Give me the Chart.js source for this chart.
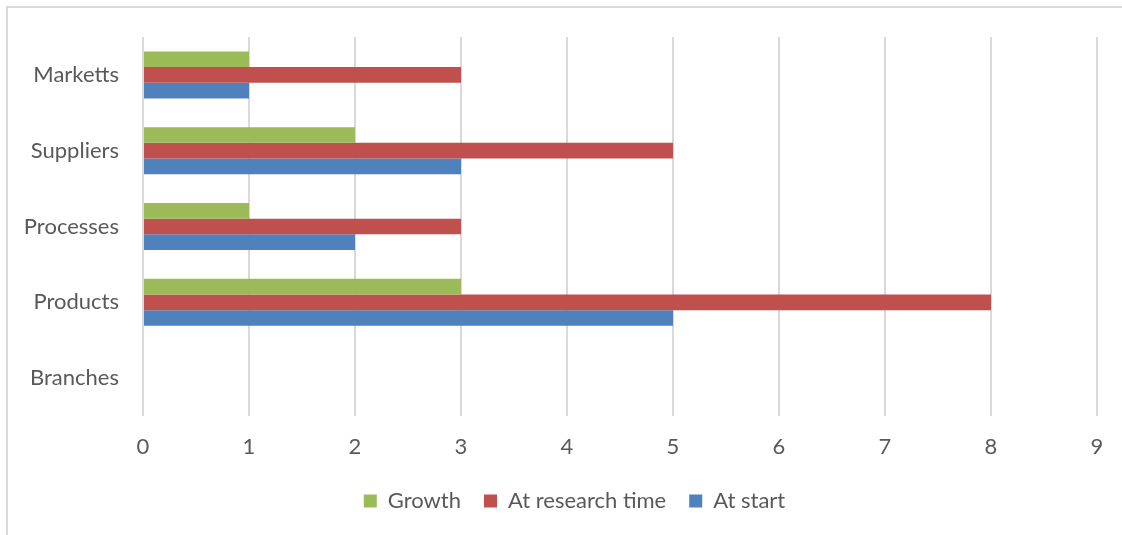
<!DOCTYPE html>
<html>
<head>
<meta charset="utf-8">
<script src="https://cdn.jsdelivr.net/npm/chart.js@4/dist/chart.umd.min.js"></script>
<style>
  html, body { margin: 0; padding: 0; background: #ffffff; }
  #wrap {
    position: relative;
    width: 1122px;
    height: 535px;
    overflow: hidden;
  }
  #frame {
    position: absolute;
    left: 6px;
    top: 6px;
    width: 1130px;
    height: 540px;
    border-left: 2px solid #d9d9d9;
    border-top: 2px solid #d9d9d9;
    box-sizing: border-box;
  }
  canvas { position: absolute; left: 0; top: 0; }
</style>
</head>
<body>
<div id="wrap">
  <div id="frame"></div>
  <canvas id="chart" width="1122" height="535"></canvas>
</div>
<script>
// Categories, listed top to bottom
const categories = ['Marketts', 'Suppliers', 'Processes', 'Products', 'Branches'];

// Series values per category
const growth = [1, 2, 1, 3, 0];
const atResearchTime = [3, 5, 3, 8, 0];
const atStart = [1, 3, 2, 5, 0];

// Value axis tick range
const xTicks = [0, 1, 2, 3, 4, 5, 6, 7, 8, 9];

const FONT = 'Lato, "Open Sans", sans-serif';
const TEXT = '#595959';

// Nudges the legend row so it sits centred under the plot rather than the whole canvas
const legendShift = {
  id: 'legendShift',
  afterLayout(chart) {
    const lg = chart.legend;
    if (lg) { lg.left += 26; lg.right += 26; }
  }
};

new Chart(document.getElementById('chart'), {
  type: 'bar',
  data: {
    labels: categories,
    datasets: [
      { label: 'Growth', data: growth, backgroundColor: '#9bbb59' },
      { label: 'At research time', data: atResearchTime, backgroundColor: '#c0504d' },
      { label: 'At start', data: atStart, backgroundColor: '#4f81bd' }
    ]
  },
  options: {
    indexAxis: 'y',
    responsive: false,
    animation: false,
    events: [],
    datasets: {
      bar: { categoryPercentage: 0.62, barPercentage: 1.0 }
    },
    layout: { padding: { left: 0, right: 25, top: 37, bottom: 13 } },
    scales: {
      x: {
        min: xTicks[0],
        max: xTicks[xTicks.length - 1],
        afterBuildTicks: (scale) => { scale.ticks = xTicks.map(v => ({ value: v })); },
        grid: { color: '#d9d9d9', lineWidth: 2, drawTicks: false },
        border: { display: false },
        ticks: { color: TEXT, font: { family: FONT, size: 22 }, padding: 18 },
        afterFit: (scale) => { scale.height = 51; }
      },
      y: {
        grid: { display: false },
        border: { display: false },
        ticks: { color: TEXT, font: { family: FONT, size: 22 }, padding: 16 },
        afterFit: (scale) => { scale.width = 143; }
      }
    },
    plugins: {
      legend: {
        position: 'bottom',
        labels: {
          color: TEXT,
          font: { family: FONT, size: 22 },
          boxWidth: 13,
          boxHeight: 13,
          padding: 23
        }
      },
      tooltip: { enabled: false }
    }
  },
  plugins: [legendShift]
});
</script>
</body>
</html>
